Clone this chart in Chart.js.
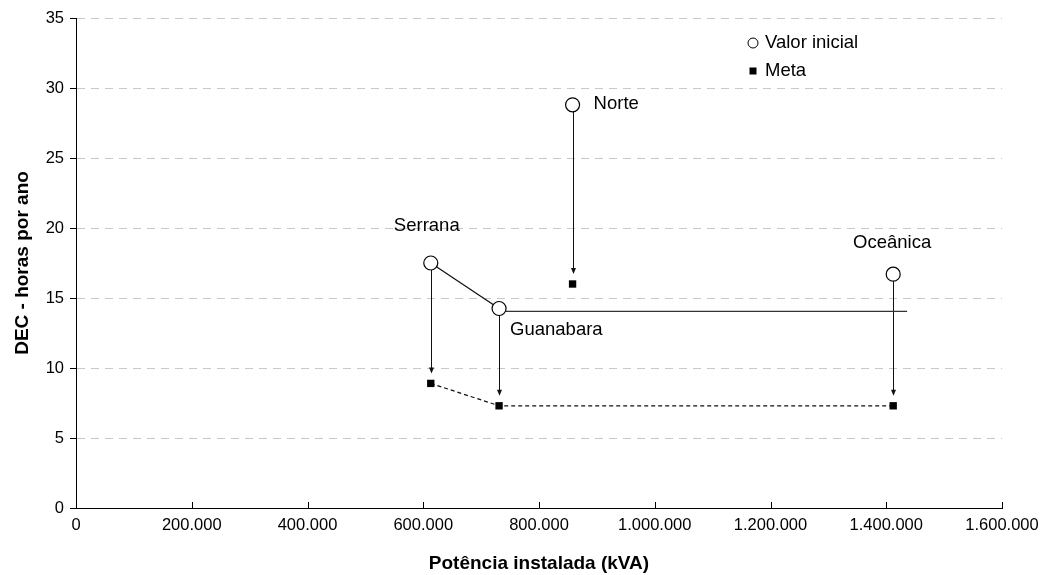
<!DOCTYPE html>
<html>
<head>
<meta charset="utf-8">
<script src="https://cdn.jsdelivr.net/npm/chart.js@4.4.1/dist/chart.umd.min.js"></script>
<style>
html,body{margin:0;padding:0;background:#fff;}
#wrap{width:1042px;height:575px;position:relative;}
</style>
</head>
<body>
<div id="wrap"><canvas id="c" width="1042" height="575"></canvas></div>
<script>
const regions = ['Serrana', 'Guanabara', 'Norte', 'Oceânica'];
const potencia = [613000, 731000, 858000, 1412000];
const valorInicial = [17.5, 14.25, 28.8, 16.7];
const meta = [8.9, 7.3, 16.0, 7.3];
const serranaGuanabaraX = [613000, 731000];
const serranaGuanabaraY = [17.5, 14.25];
const horizLineX = [731000, 1436000];
const horizLineY = [14.05, 14.05];
const metaLineIdx = [0, 1, 3];
const xTickLabels = ['0', '200.000', '400.000', '600.000', '800.000', '1.000.000', '1.200.000', '1.400.000', '1.600.000'];
const yTickLabels = ['0', '5', '10', '15', '20', '25', '30', '35'];
const legendLabels = ['Valor inicial', 'Meta'];
const xTitle = 'Potência instalada (kVA)';
const yTitle = 'DEC - horas por ano';

const FONT = "'Liberation Sans', Arial, sans-serif";

const pts = (xs, ys) => xs.map((x, i) => ({x: x, y: ys[i]}));

const labelOffsets = [
  {dx: -4, dy: -37, align: 'center'},
  {dx: 11, dy: 21, align: 'left'},
  {dx: 21, dy: -1, align: 'left'},
  {dx: -1, dy: -31, align: 'center'}
];

const overlay = {
  id: 'overlay',
  beforeDatasetsDraw(chart) {
    const ctx = chart.ctx, xs = chart.scales.x, ys = chart.scales.y;
    ctx.save();
    ctx.strokeStyle = '#111';
    ctx.fillStyle = '#111';
    ctx.lineWidth = 1;
    for (let i = 0; i < potencia.length; i++) {
      const px = Math.round(xs.getPixelForValue(potencia[i])) + 0.5;
      const y0 = ys.getPixelForValue(valorInicial[i]) + 7;
      const y1 = ys.getPixelForValue(meta[i]) - 10;
      ctx.beginPath();
      ctx.moveTo(px, y0);
      ctx.lineTo(px, y1 - 4);
      ctx.stroke();
      ctx.beginPath();
      ctx.moveTo(px - 2.5, y1 - 6);
      ctx.lineTo(px + 2.5, y1 - 6);
      ctx.lineTo(px, y1);
      ctx.closePath();
      ctx.fill();
    }
    // inward x ticks
    ctx.strokeStyle = '#000';
    const bottom = chart.chartArea.bottom;
    xTickLabels.forEach((t, i) => {
      const px = Math.round(xs.getPixelForValue(i * 200000)) + 0.5;
      ctx.beginPath();
      ctx.moveTo(px, bottom);
      ctx.lineTo(px, bottom - 6);
      ctx.stroke();
    });
    ctx.restore();
  },
  afterDraw(chart) {
    const ctx = chart.ctx, xs = chart.scales.x, ys = chart.scales.y;
    ctx.save();
    ctx.fillStyle = '#000';
    ctx.font = '18.5px ' + FONT;
    ctx.textBaseline = 'middle';
    regions.forEach((r, i) => {
      const o = labelOffsets[i];
      ctx.textAlign = o.align;
      ctx.fillText(r, xs.getPixelForValue(potencia[i]) + o.dx, ys.getPixelForValue(valorInicial[i]) + o.dy);
    });
    // legend
    const lx = 753, ly = [43, 71];
    ctx.fillStyle = '#fff';
    ctx.strokeStyle = '#000';
    ctx.lineWidth = 1;
    ctx.beginPath(); ctx.arc(lx, ly[0], 5, 0, Math.PI * 2); ctx.fill(); ctx.stroke();
    ctx.fillStyle = '#000';
    ctx.fillRect(lx - 3.5, ly[1] - 3.5, 7, 7);
    ctx.textAlign = 'left';
    ctx.fillText(legendLabels[0], 765, ly[0]);
    ctx.fillText(legendLabels[1], 765, ly[1]);
    ctx.restore();
  }
};

new Chart(document.getElementById('c'), {
  type: 'scatter',
  data: {
    datasets: [
      {
        label: legendLabels[0],
        data: pts(potencia, valorInicial),
        pointStyle: 'circle',
        pointRadius: 7,
        pointHoverRadius: 7,
        pointBackgroundColor: '#fff',
        pointBorderColor: '#000',
        pointBorderWidth: 1.2,
        showLine: false,
        order: 0
      },
      {
        label: legendLabels[1],
        data: pts(potencia, meta),
        pointStyle: 'rect',
        pointRadius: 5.2,
        pointHoverRadius: 5.2,
        pointBackgroundColor: '#000',
        pointBorderColor: '#000',
        pointBorderWidth: 0,
        showLine: false,
        order: 0
      },
      {
        label: 'linha1',
        data: pts(serranaGuanabaraX, serranaGuanabaraY),
        showLine: true,
        borderColor: '#111',
        borderWidth: 1.3,
        pointRadius: 0,
        order: 2
      },
      {
        label: 'linha2',
        data: pts(horizLineX, horizLineY),
        showLine: true,
        borderColor: '#333',
        borderWidth: 1.3,
        pointRadius: 0,
        order: 2
      },
      {
        label: 'linha3',
        data: metaLineIdx.map(i => ({x: potencia[i], y: meta[i]})),
        showLine: true,
        borderColor: '#111',
        borderWidth: 1.2,
        borderDash: [4, 3],
        pointRadius: 0,
        order: 2
      }
    ]
  },
  options: {
    responsive: false,
    animation: false,
    devicePixelRatio: 1,
    layout: {padding: {top: 18, right: 40, left: 0, bottom: 0}},
    plugins: {legend: {display: false}, tooltip: {enabled: false}},
    scales: {
      x: {
        type: 'linear',
        min: 0, max: 1600000,
        afterBuildTicks(s) { s.ticks = xTickLabels.map((t, i) => ({value: i * 200000})); },
        afterFit(s) { s.height = 67; s.paddingLeft = 0; s.paddingRight = 0; },
        ticks: {
          color: '#000',
          font: {family: FONT, size: 16.5},
          padding: 8,
          maxRotation: 0,
          autoSkip: false,
          callback: (v, i) => xTickLabels[i]
        },
        grid: {display: true, drawOnChartArea: false, drawTicks: false},
        border: {display: true, color: '#000', width: 1},
        title: {display: true, text: xTitle, color: '#000', font: {family: FONT, size: 19, weight: 'bold'}, padding: {top: 0, bottom: 0}}
      },
      y: {
        type: 'linear',
        min: 0, max: 35,
        afterBuildTicks(s) { s.ticks = yTickLabels.map((t, i) => ({value: i * 5})); },
        afterFit(s) { s.width = 76; s.paddingTop = 0; s.paddingBottom = 0; },
        ticks: {
          color: '#000',
          font: {family: FONT, size: 16.5},
          padding: 6,
          callback: (v, i) => yTickLabels[i]
        },
        grid: {display: true, drawOnChartArea: true, drawTicks: true, tickLength: 6, color: '#c8c8c8', tickColor: '#000', lineWidth: 1},
        border: {display: true, color: '#000', width: 1, dash: [8, 6]},
        title: {display: true, text: yTitle, color: '#000', font: {family: FONT, size: 19, weight: 'bold'}, padding: {top: 11, bottom: 0}}
      }
    }
  },
  plugins: [overlay]
});
</script>
</body>
</html>
